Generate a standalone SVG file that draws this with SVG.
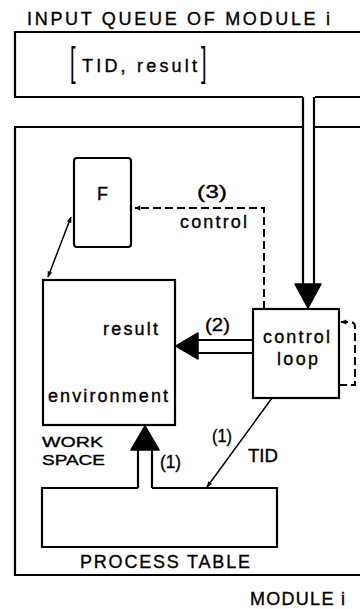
<svg xmlns="http://www.w3.org/2000/svg" width="360" height="609" viewBox="0 0 360 609">
<style>
.t{font-family:"Liberation Sans",Arial,sans-serif;font-size:18px;fill:#000;stroke:#000;stroke-width:0.35}
.s{font-size:15.5px}
.br{font-family:"Liberation Sans",Arial,sans-serif;font-size:20px;fill:#000}
.ln{fill:none;stroke:#000;stroke-width:2.2}
.th{fill:none;stroke:#000;stroke-width:1.5}
.ds{fill:none;stroke:#000;stroke-width:2;stroke-dasharray:8 4}
.ah{fill:#000;stroke:#000;stroke-width:1.5;stroke-linejoin:round}
</style>
<defs>
<marker id="sm" viewBox="0 0 10 10" refX="9" refY="5" markerWidth="7" markerHeight="6" markerUnits="userSpaceOnUse" orient="auto-start-reverse"><path d="M0,1 L10,5 L0,9 z" fill="#000"/></marker>
<marker id="dm" viewBox="0 0 10 10" refX="9" refY="5" markerWidth="9" markerHeight="6" markerUnits="userSpaceOnUse" orient="auto"><path d="M0,1 L10,5 L0,9 z" fill="#000"/></marker>
</defs>
<rect width="360" height="609" fill="#fff"/>
<g id="queue">
<text class="t" x="27" y="25" textLength="303" lengthAdjust="spacing">INPUT QUEUE OF MODULE i</text>
<path class="ln" d="M360,32 H15 V97 H303 M315,97 H360"/>
<text class="br" transform="translate(70,76) scale(1,2)">[</text>
<text class="t" x="82" y="72" textLength="115" lengthAdjust="spacing">TID, result</text>
<text class="br" transform="translate(201,76) scale(1,2)">]</text>
</g>
<g id="module">
<path class="ln" d="M303,127 H15 V575 H360 M315,127 H360"/>
<text class="t" x="250" y="605" textLength="95" lengthAdjust="spacing">MODULE i</text>
</g>
<g id="F">
<rect class="ln" x="74" y="158" width="57" height="89" rx="3"/>
<text class="t" x="97" y="200">F</text>
</g>
<g id="workspace">
<rect class="ln" x="43" y="280" width="132" height="145"/>
<text class="t" x="103" y="335" textLength="55" lengthAdjust="spacing">result</text>
<text class="t" x="48" y="402" textLength="120" lengthAdjust="spacing">environment</text>
<text class="t s" x="42" y="447" textLength="61" lengthAdjust="spacingAndGlyphs">WORK</text>
<text class="t s" x="42" y="465" textLength="63" lengthAdjust="spacingAndGlyphs">SPACE</text>
</g>
<g id="controlloop">
<rect class="ln" x="253" y="309" width="86" height="89"/>
<text class="t" x="263" y="343" textLength="67" lengthAdjust="spacing">control</text>
<text class="t" x="277" y="365" textLength="41" lengthAdjust="spacing">loop</text>
</g>
<g id="processtable">
<path class="ln" d="M138,488 H42 V547 H277 V488 H152"/>
<text class="t" x="80" y="568" textLength="170" lengthAdjust="spacing">PROCESS TABLE</text>
</g>
<g id="connectors">
<path class="ln" d="M303,97 V284 M314,97 V284"/>
<polygon class="ah" points="295,284 321,284 308,308"/>
<path class="ds" d="M264,309 V208 H135" marker-end="url(#dm)"/>
<text class="t" x="197" y="198" textLength="30" lengthAdjust="spacingAndGlyphs">(3)</text>
<text class="t" x="180" y="228" textLength="67" lengthAdjust="spacing">control</text>
<path class="ds" d="M339,385 H355 V327 Q355,322 350,322 H341" marker-end="url(#dm)"/>
<path class="th" d="M71,217 L48,277" marker-start="url(#sm)" marker-end="url(#sm)"/>
<path class="ln" d="M253,340 H197 M253,353 H197"/>
<polygon class="ah" points="176,346 198,333 198,359"/>
<text class="t" x="205" y="331" textLength="25" lengthAdjust="spacingAndGlyphs">(2)</text>
<path class="ln" d="M138,488 V450 M152,488 V450"/>
<polygon class="ah" points="131,450 159,450 145,426"/>
<text class="t" x="160" y="468" textLength="21" lengthAdjust="spacingAndGlyphs">(1)</text>
<path class="th" d="M272,398 L207,487" marker-end="url(#sm)"/>
<text class="t" x="212" y="442" textLength="20" lengthAdjust="spacingAndGlyphs">(1)</text>
<text class="t" x="248" y="462" textLength="30" lengthAdjust="spacingAndGlyphs">TID</text>
</g>
</svg>
